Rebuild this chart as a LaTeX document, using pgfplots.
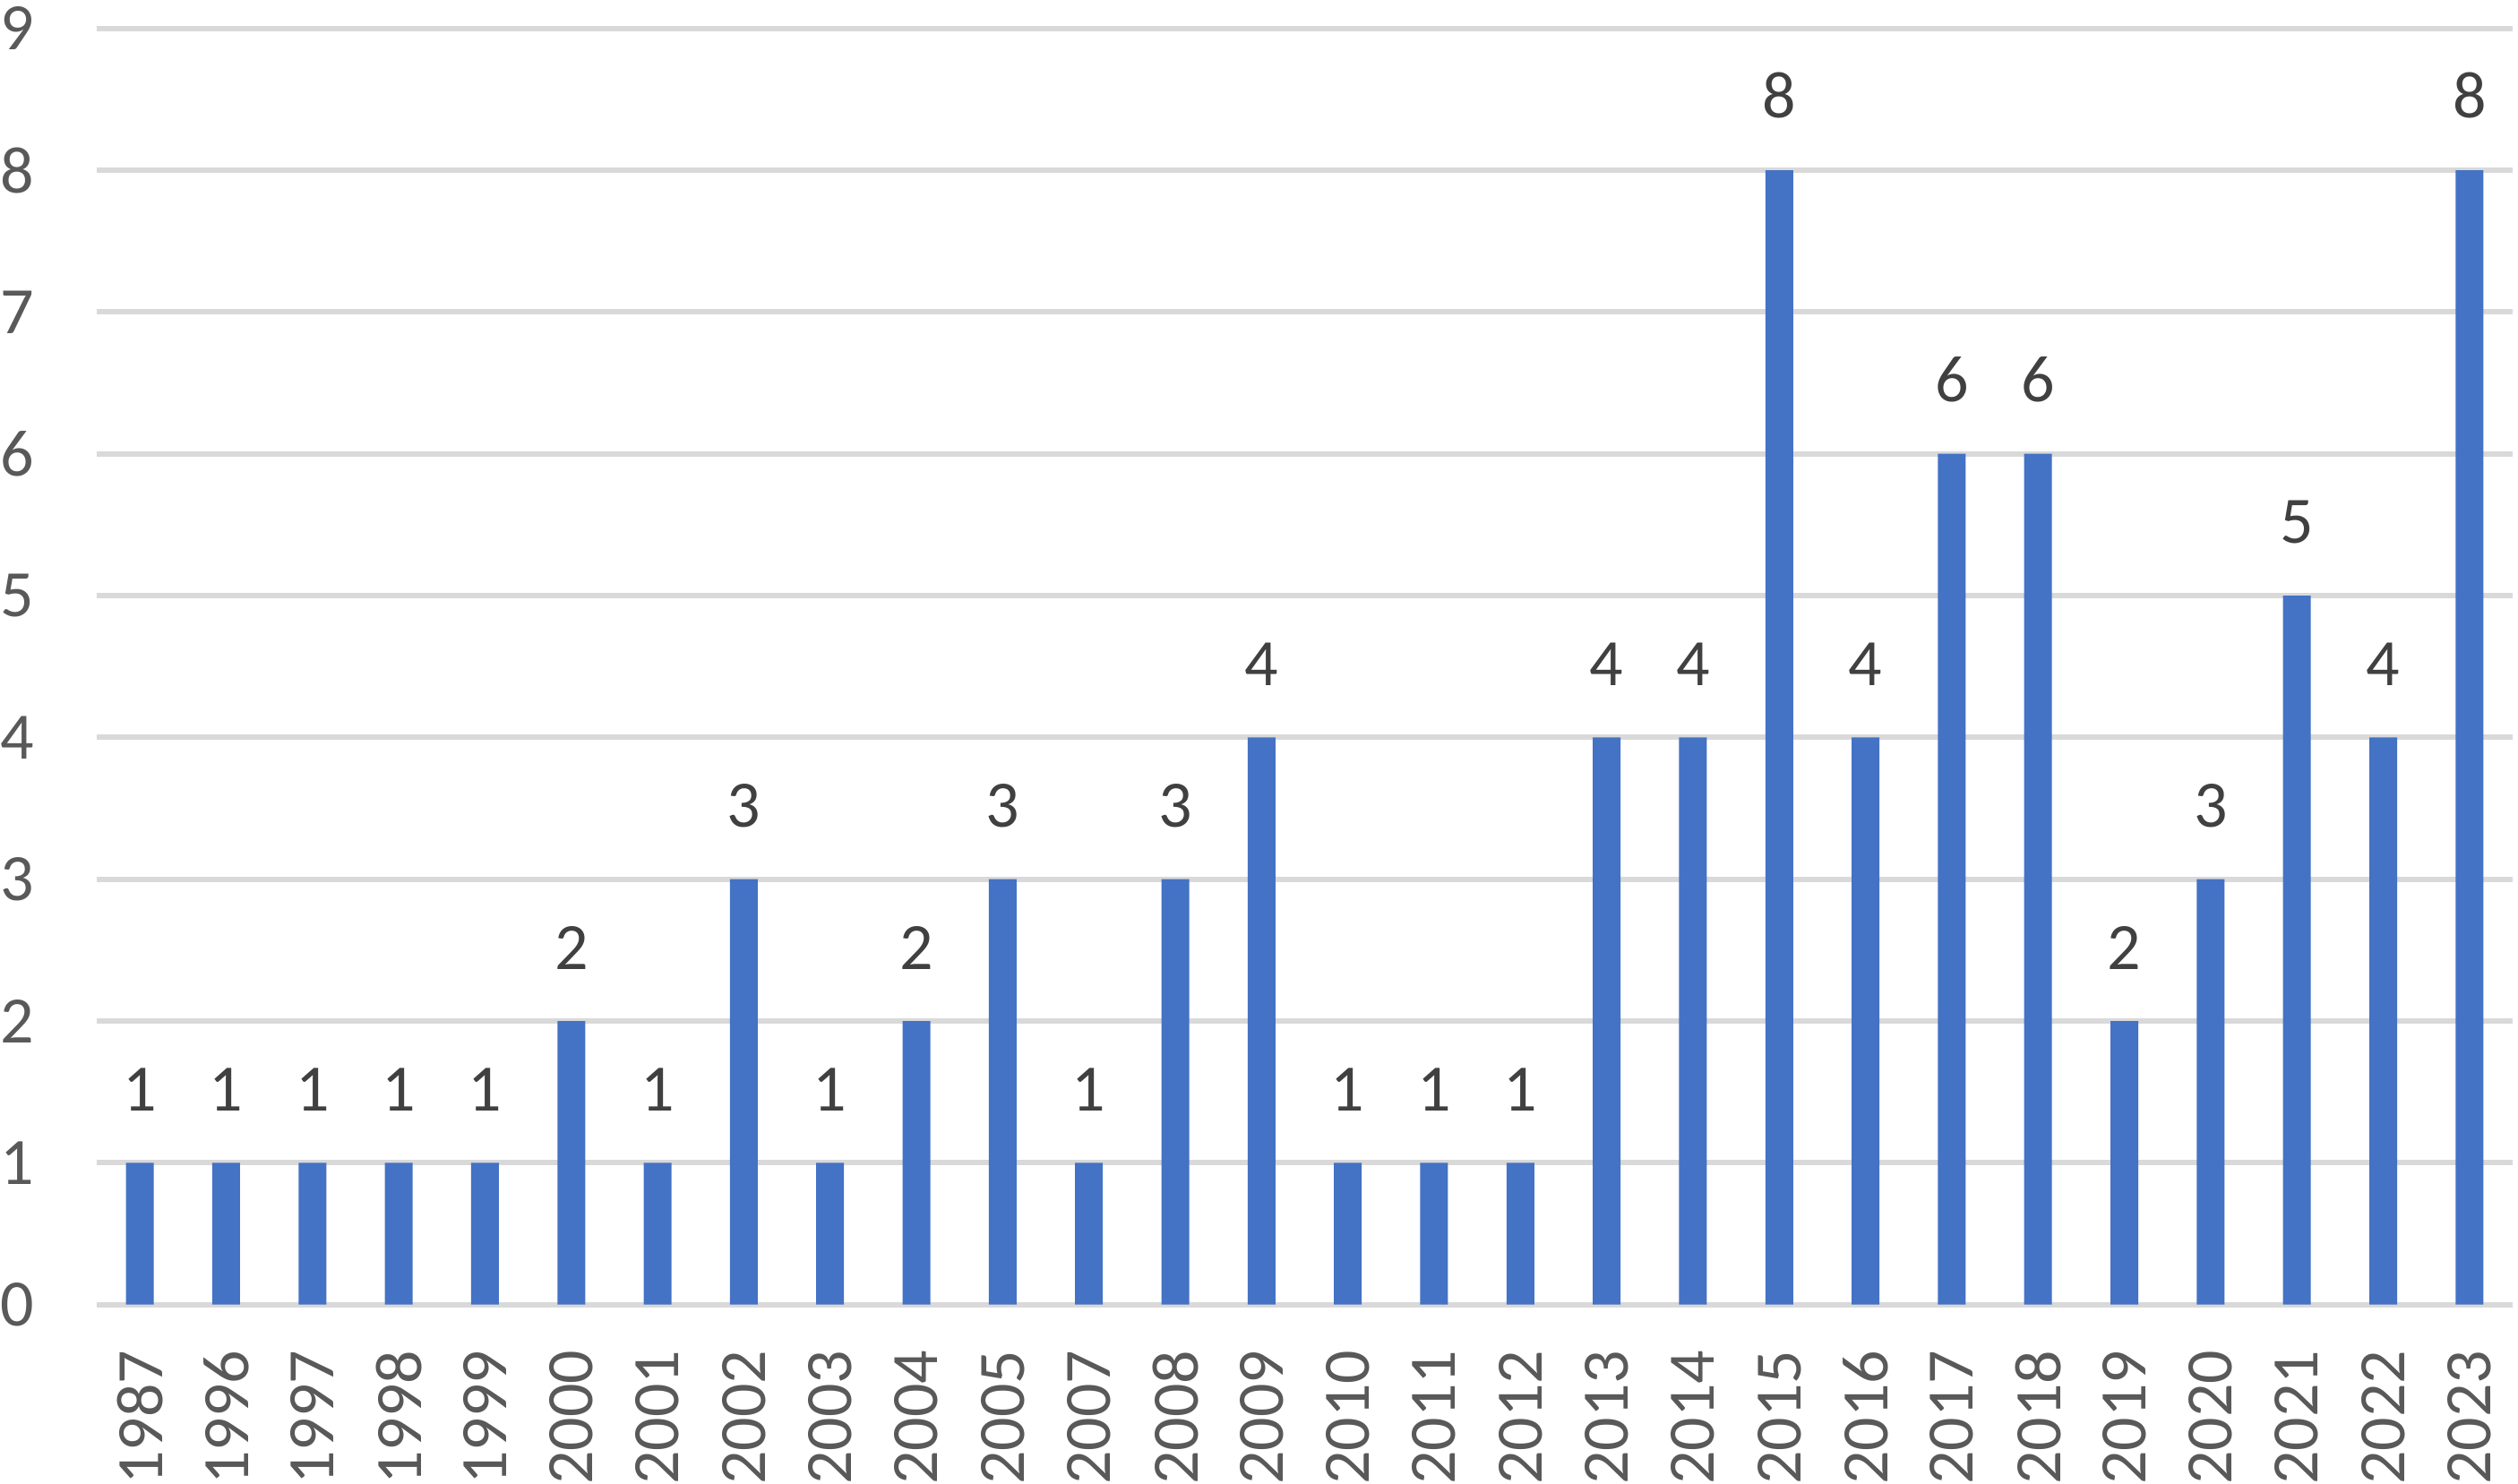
\documentclass[border=0pt]{standalone}
\usepackage{fontspec}
\setmainfont{Carlito}
\usepackage{pgfplots}
\pgfplotsset{compat=1.18}
\usepackage{pgfplotstable}
\definecolor{barblue}{HTML}{4472C4}
\definecolor{gridgray}{HTML}{D9D9D9}
\definecolor{ticktext}{HTML}{595959}
\definecolor{labeltext}{HTML}{404040}
\pgfplotstableread{
x year val
0 1987 1
1 1996 1
2 1997 1
3 1998 1
4 1999 1
5 2000 2
6 2001 1
7 2002 3
8 2003 1
9 2004 2
10 2005 3
11 2007 1
12 2008 3
13 2009 4
14 2010 1
15 2011 1
16 2012 1
17 2013 4
18 2014 4
19 2015 8
20 2016 4
21 2017 6
22 2018 6
23 2019 2
24 2020 3
25 2021 5
26 2022 4
27 2023 8
}\datatable
\begin{document}
\fontsize{14.8}{17}\selectfont
\begin{tikzpicture}
\begin{axis}[
  name=ax,
  scale only axis,
  width=539.4pt, height=285pt,
  xmin=-0.5, xmax=27.5,
  ymin=0, ymax=9,
  ytick={0,1,...,9},
  xtick=data,
  xticklabels={1987,1996,1997,1998,1999,2000,2001,2002,2003,2004,2005,2007,2008,2009,2010,2011,2012,2013,2014,2015,2016,2017,2018,2019,2020,2021,2022,2023},
  /pgf/number format/assume math mode=true,
  axis line style={draw=none},
  major tick length=0pt,
  ymajorgrids,
  grid style={gridgray, line width=1.2pt},
  tick label style={font=\fontsize{14.8}{17}\selectfont, text=ticktext},
  yticklabel style={anchor=east, inner sep=0pt, xshift=-13.8pt},
  xticklabel style={yshift=-10pt, rotate=90, anchor=east, inner sep=0pt},
  ybar,
  bar width=6.2pt,
  nodes near coords,
  every node near coord/.append style={font=\fontsize{14.8}{17}\selectfont, text=labeltext, anchor=south, inner sep=0pt, yshift=11.4pt},
]
\addplot[fill=barblue, draw=none] table[x=x, y=val] {\datatable};
\end{axis}
\pgfresetboundingbox
\path[use as bounding box] ([xshift=-21.6pt,yshift=-39.9pt]ax.south west) rectangle ([xshift=1.2pt,yshift=6.34pt]ax.north east);
\end{tikzpicture}
\end{document}
